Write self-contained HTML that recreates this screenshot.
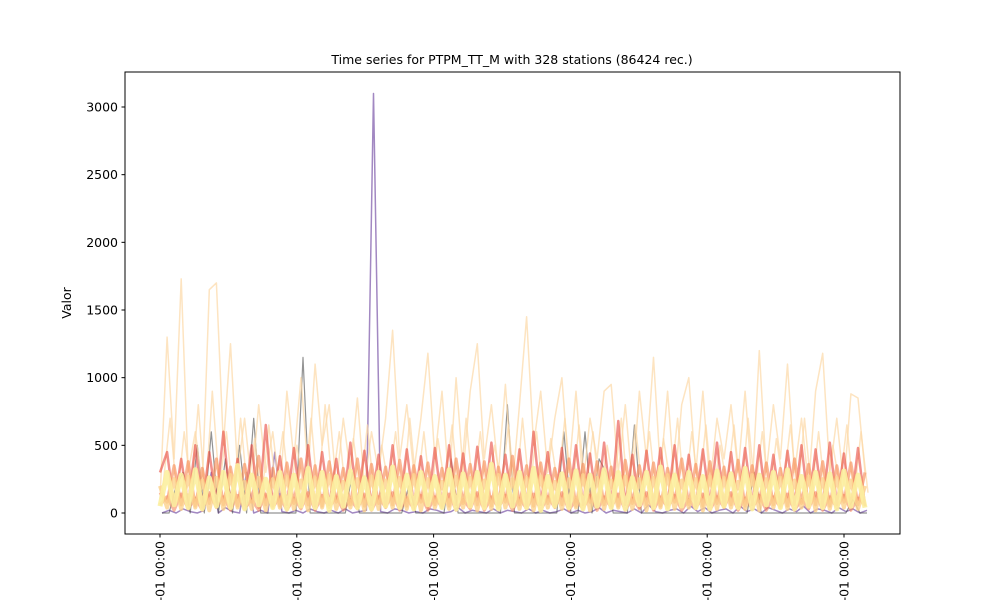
<!DOCTYPE html>
<html><head><meta charset="utf-8">
<style>
html,body{margin:0;padding:0;background:#fff;width:1000px;height:600px;overflow:hidden}
svg{display:block;font-family:"DejaVu Sans","Liberation Sans",sans-serif}
</style></head>
<body>
<svg id="chart" width="1000" height="600" viewBox="0 0 1000 600" overflow="hidden">
<defs><clipPath id="pageclip"><rect x="0" y="0" width="1000" height="600"/></clipPath></defs>
<text x="512" y="64" font-size="12.5" text-anchor="middle">Time series for PTPM_TT_M with 328 stations (86424 rec.)</text>
<text transform="translate(71,303) rotate(-90)" font-size="12.5" text-anchor="middle">Valor</text>
<g id="series"></g>
<g id="yaxis"></g>
<g id="xaxis" clip-path="url(#pageclip)"></g>
<rect x="125" y="72" width="775" height="462" fill="none" stroke="#000" stroke-width="1"/>
</svg>
<script>
const yTicks=[0,500,1000,1500,2000,2500,3000];
const xTickLabels=["15-01-01 00:00","16-01-01 00:00","17-01-01 00:00","18-01-01 00:00","19-01-01 00:00","20-01-01 00:00"];
const creamHigh=[100,1300,400,1730,300,600,200,1650,1700,500,1250,300,700,200,800,300,600,150,900,400,1000,300,1100,500,800,200,700,300,850,200,600,300,700,1350,400,800,300,700,1180,400,900,200,1000,300,900,1250,400,800,300,950,200,800,1450,500,900,300,700,1000,300,900,200,700,400,900,950,300,800,200,900,400,1150,300,900,200,800,1000,300,900,200,700,400,800,300,900,200,1200,300,800,400,1100,300,700,200,900,1180,300,700,200,880,850,300];
const creamMid=[200,700,100,600,150,800,100,900,200,600,100,700,150,550,100,650,200,600,100,500,150,700,100,800,200,600,100,550,150,650,100,500,200,600,100,700,150,600,100,550,200,650,100,700,150,600,100,500,200,650,100,700,150,600,100,550,200,700,100,650,150,600,100,500,200,700,100,650,150,600,100,550,200,700,100,600,150,650,100,500,200,650,100,700,150,600,100,550,200,650,100,700,150,600,100,500,200,650,100,600,150];
const redVals=[300,450,50,400,60,500,40,450,80,600,50,400,60,500,40,650,50,420,60,480,40,500,50,450,60,400,40,520,50,460,60,430,40,500,50,470,60,420,40,480,50,500,60,440,40,490,50,520,60,430,40,470,50,600,60,450,40,480,50,500,60,440,40,520,50,680,60,430,40,460,50,480,60,500,40,430,50,470,60,520,40,450,50,480,60,500,40,430,50,460,60,500,40,470,50,520,60,440,40,480,50];
const orangeVals=[150,80,350,60,380,50,330,70,400,60,340,50,360,80,420,60,330,50,370,70,400,60,350,50,380,80,330,60,400,50,360,70,340,60,390,50,350,80,370,60,330,50,400,70,360,60,380,50,340,80,420,60,350,50,370,70,330,60,400,50,360,80,380,60,340,50,390,70,350,60,370,50,330,80,400,60,360,50,380,70,340,60,390,50,350,80,370,60,330,50,400,70,360,60,380,50,350,80,370,60,300];
const yellowA=[50,300,60,280,40,320,30,260,50,300,40,350,30,280,60,250,40,300,30,280,50,330,40,300,20,270,50,310,40,260,30,300,50,340,40,280,30,300,60,270,40,320,30,290,50,300,40,360,30,280,50,300,40,330,20,270,50,290,40,310,30,280,50,320,40,300,30,260,60,300,40,340,30,280,50,300,40,270,30,310,50,290,40,330,30,280,60,300,40,320,30,270,50,300,40,290,30,310,50,280,40];
const yellowB=[200,40,250,30,270,40,240,20,260,30,280,40,230,30,260,20,250,40,270,30,240,20,260,40,280,30,230,40,250,20,270,30,240,40,260,30,280,20,250,40,230,30,270,40,260,20,240,30,280,40,250,30,260,20,270,40,230,30,250,40,280,20,260,30,240,40,270,30,250,20,260,40,280,30,240,40,250,20,270,30,260,40,230,30,280,20,250,40,260,30,240,40,270,20,250,30,260,40,240,30,200];
const lowVals=[60,120,20,140,30,110,20,150,40,120,20,130,30,100,20,140,40,120,20,110,30,150,20,130,40,120,20,100,30,140,20,120,40,150,20,110,30,130,20,120,40,140,20,100,30,150,20,120,40,130,20,110,30,140,20,120,40,150,20,100,30,130,20,120,40,140,20,110,30,150,20,120,40,130,20,100,30,140,20,120,40,150,20,110,30,130,20,120,40,140,20,100,30,150,20,120,40,130,20,110,60];
const purpleVals=[0,20,0,30,10,0,20,300,0,40,10,0,300,0,20,0,450,10,0,20,0,30,10,0,20,0,30,0,10,20,3100,10,0,30,20,0,10,0,30,20,0,10,40,0,20,10,0,30,0,20,10,0,30,0,20,0,10,30,0,20,0,10,40,0,20,10,0,30,0,60,10,0,20,30,0,50,10,40,0,20,30,0,50,10,30,0,40,20,0,30,10,50,0,30,20,0,40,10,30,0,20];
const darkVals=[0,0,200,300,0,500,0,600,0,400,0,500,0,700,0,0,0,0,0,0,1150,0,0,0,0,0,0,300,0,0,0,0,0,0,0,200,0,0,0,0,0,400,0,0,0,0,0,0,0,800,0,0,0,0,0,0,0,600,0,0,600,0,400,300,0,0,0,650,0,0,0,0,0,0,0,0,0,0,0,0,0,0,0,0,300,0,0,0,0,0,0,0,0,0,0,0,0,0,100,0,0];

const X0=160,X1=865,Y0=513,PPU=406/3000;
function yS(v){return Y0-v*PPU;}
function xS(i,n){return X0+i*(X1-X0)/(n-1);}
const NS="http://www.w3.org/2000/svg";
const sg=document.getElementById('series');
function addSeries(vals,color,w,op,name,shift){
  const p=document.createElementNS(NS,'polyline');
  p.setAttribute('points',vals.map((v,i)=>(xS(i,vals.length)+(shift||0)).toFixed(1)+','+yS(v).toFixed(1)).join(' '));
  p.setAttribute('fill','none');p.setAttribute('stroke',color);
  p.setAttribute('stroke-width',w);p.setAttribute('stroke-opacity',op);
  p.setAttribute('stroke-linejoin','round');
  
  
  sg.appendChild(p);
}
addSeries(purpleVals,'#7a55a8',1.5,0.7,'series-purple',2);
addSeries(darkVals,'#3a3a3a',1.2,0.55,'series-dark',2);
addSeries(creamHigh,'#fcd9a6',1.5,0.7,'series-cream-high');
addSeries(creamMid,'#fcd9a6',1.5,0.7,'series-cream-mid',3);
addSeries(redVals,'#e8483f',2.5,0.6,'series-red');
addSeries(orangeVals,'#f7905e',3,0.65,'series-orange');
addSeries(lowVals,'#f58860',3,0.6,'series-low');
addSeries(yellowB,'#fdd28c',4,0.8,'series-yellow-b');
addSeries(yellowA,'#fcf0a0',5,0.9,'series-yellow-a');

const ya=document.getElementById('yaxis');
yTicks.forEach(v=>{
  const y=yS(v);
  const l=document.createElementNS(NS,'line');
  l.setAttribute('x1',121.5);l.setAttribute('x2',125);l.setAttribute('y1',y);l.setAttribute('y2',y);l.setAttribute('stroke','#000');
  
  
  ya.appendChild(l);
  const t=document.createElementNS(NS,'text');
  t.setAttribute('x',118);t.setAttribute('y',y+4.5);t.setAttribute('text-anchor','end');t.setAttribute('font-size','12.5');
  t.textContent=v;
  
  
  ya.appendChild(t);
});
const xa=document.getElementById('xaxis');
xTickLabels.forEach((s,i)=>{
  const x=160+i*136.8;
  const l=document.createElementNS(NS,'line');
  l.setAttribute('x1',x);l.setAttribute('x2',x);l.setAttribute('y1',534);l.setAttribute('y2',537.5);l.setAttribute('stroke','#000');
  
  
  xa.appendChild(l);
  const t=document.createElementNS(NS,'text');
  t.setAttribute('transform','translate('+(x+4.5)+',541) rotate(-90)');
  t.setAttribute('text-anchor','end');t.setAttribute('font-size','12.5');
  t.textContent=s;
  
  
  xa.appendChild(t);
});
</script>
</body></html>
